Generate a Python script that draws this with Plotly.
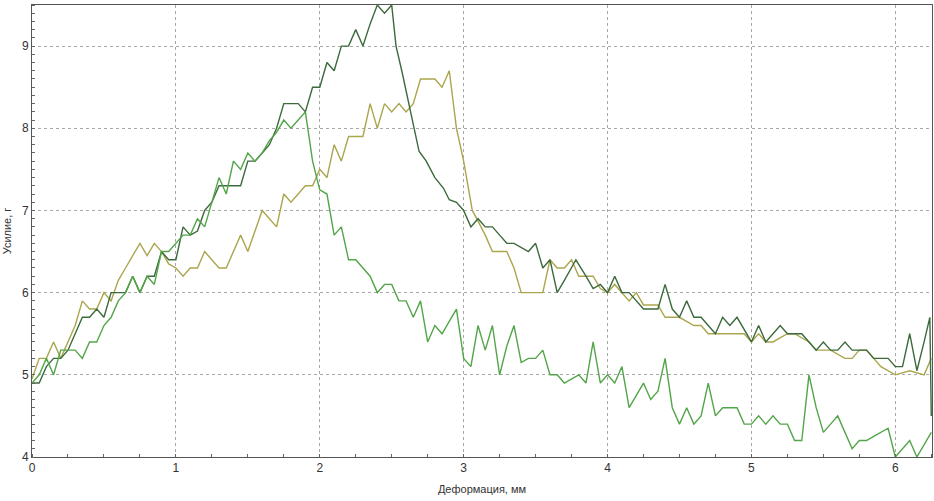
import plotly.graph_objects as go

# --- data (deformation, mm / force, g) ---
dark_x = [0, 0.05, 0.1, 0.15, 0.2, 0.25, 0.3, 0.35, 0.4, 0.45, 0.5, 0.55, 0.6, 0.65, 0.7,
          0.75, 0.8, 0.85, 0.9, 0.95, 1.0, 1.05, 1.1, 1.15, 1.2, 1.25, 1.3, 1.35, 1.4, 1.45,
          1.5, 1.55, 1.6, 1.65, 1.7, 1.75, 1.8, 1.85, 1.9, 1.95, 2.0, 2.05, 2.1, 2.15, 2.2,
          2.25, 2.3, 2.35, 2.4, 2.45, 2.5, 2.53, 2.57, 2.62, 2.69, 2.74, 2.8, 2.86, 2.9, 2.95,
          3.0, 3.05, 3.1, 3.15, 3.2, 3.25, 3.3, 3.35, 3.4, 3.45, 3.5, 3.55, 3.6, 3.65, 3.7,
          3.75, 3.78, 3.85, 3.9, 3.95, 4.0, 4.05, 4.1, 4.15, 4.2, 4.25, 4.3, 4.35, 4.4, 4.45,
          4.5, 4.55, 4.6, 4.65, 4.7, 4.75, 4.8, 4.85, 4.9, 4.95, 5.0, 5.05, 5.1, 5.15, 5.2,
          5.25, 5.3, 5.35, 5.4, 5.45, 5.5, 5.55, 5.6, 5.65, 5.7, 5.75, 5.8, 5.85, 5.9, 5.95,
          6.0, 6.05, 6.1, 6.15, 6.2, 6.24, 6.25]
dark_y = [4.9, 4.9, 5.1, 5.2, 5.2, 5.3, 5.5, 5.7, 5.7, 5.8, 5.7, 6.0, 6.0, 6.0, 6.2,
          6.0, 6.2, 6.2, 6.5, 6.4, 6.4, 6.8, 6.7, 6.75, 7.0, 7.1, 7.3, 7.3, 7.3, 7.3,
          7.6, 7.6, 7.7, 7.8, 8.0, 8.3, 8.3, 8.3, 8.2, 8.5, 8.5, 8.8, 8.7, 9.0, 9.0,
          9.2, 9.0, 9.27, 9.5, 9.4, 9.5, 9.0, 8.7, 8.3, 7.72, 7.6, 7.4, 7.27, 7.13, 7.1,
          7.0, 6.8, 6.9, 6.8, 6.8, 6.7, 6.6, 6.6, 6.55, 6.5, 6.6, 6.3, 6.4, 6.0, 6.15,
          6.3, 6.4, 6.2, 6.05, 6.1, 6.0, 6.2, 6.0, 6.0, 5.9, 5.8, 5.8, 5.8, 6.1, 5.8,
          5.7, 5.9, 5.7, 5.7, 5.6, 5.5, 5.7, 5.6, 5.7, 5.55, 5.4, 5.6, 5.4, 5.5, 5.6,
          5.5, 5.5, 5.5, 5.4, 5.3, 5.4, 5.3, 5.3, 5.4, 5.3, 5.3, 5.3, 5.2, 5.2, 5.2,
          5.1, 5.1, 5.5, 5.05, 5.4, 5.7, 4.5]

olive_x = [0, 0.05, 0.1, 0.15, 0.2, 0.25, 0.3, 0.35, 0.4, 0.45, 0.5, 0.55, 0.6, 0.65, 0.7,
           0.75, 0.8, 0.85, 0.9, 0.95, 1.0, 1.05, 1.1, 1.15, 1.2, 1.25, 1.3, 1.35, 1.4, 1.45,
           1.5, 1.55, 1.6, 1.65, 1.7, 1.75, 1.8, 1.9, 1.95, 2.0, 2.05, 2.1, 2.15, 2.2, 2.3,
           2.35, 2.4, 2.45, 2.5, 2.55, 2.6, 2.65, 2.7, 2.8, 2.85, 2.9, 2.95, 3.0, 3.03, 3.06,
           3.1, 3.15, 3.2, 3.3, 3.35, 3.4, 3.55, 3.6, 3.65, 3.7, 3.75, 3.8, 3.9, 3.95, 4.0,
           4.05, 4.15, 4.2, 4.25, 4.35, 4.4, 4.5, 4.6, 4.65, 4.7, 4.95, 5.0, 5.05, 5.1, 5.15,
           5.25, 5.3, 5.4, 5.45, 5.55, 5.65, 5.7, 5.75, 5.8, 5.9, 6.0, 6.1, 6.2, 6.25]
olive_y = [4.95, 5.2, 5.2, 5.4, 5.2, 5.4, 5.6, 5.9, 5.8, 5.8, 6.0, 5.9, 6.15, 6.3, 6.45,
           6.6, 6.45, 6.6, 6.5, 6.35, 6.3, 6.2, 6.3, 6.3, 6.5, 6.4, 6.3, 6.3, 6.5, 6.7,
           6.5, 6.75, 7.0, 6.9, 6.8, 7.2, 7.1, 7.3, 7.3, 7.5, 7.4, 7.8, 7.6, 7.9, 7.9,
           8.3, 8.0, 8.3, 8.2, 8.3, 8.2, 8.3, 8.6, 8.6, 8.5, 8.7, 8.0, 7.6, 7.3, 7.0,
           6.87, 6.7, 6.5, 6.5, 6.3, 6.0, 6.0, 6.4, 6.3, 6.3, 6.4, 6.2, 6.2, 6.05, 6.0,
           6.1, 5.9, 6.0, 5.85, 5.85, 5.7, 5.7, 5.6, 5.6, 5.5, 5.5, 5.4, 5.5, 5.4, 5.4,
           5.5, 5.5, 5.4, 5.3, 5.3, 5.2, 5.2, 5.3, 5.3, 5.1, 5.0, 5.05, 5.0, 5.2]

green_x = [0, 0.05, 0.1, 0.15, 0.2, 0.25, 0.3, 0.35, 0.4, 0.45, 0.5, 0.55, 0.6, 0.65, 0.7,
           0.75, 0.8, 0.85, 0.9, 0.95, 1.0, 1.05, 1.1, 1.15, 1.2, 1.25, 1.3, 1.35, 1.4, 1.45,
           1.5, 1.55, 1.6, 1.65, 1.7, 1.75, 1.8, 1.85, 1.9, 1.95, 2.0, 2.05, 2.1, 2.15, 2.2,
           2.25, 2.3, 2.35, 2.4, 2.45, 2.5, 2.55, 2.6, 2.65, 2.7, 2.75, 2.8, 2.85, 2.9, 2.95,
           3.0, 3.05, 3.1, 3.15, 3.2, 3.25, 3.3, 3.35, 3.4, 3.45, 3.5, 3.55, 3.6, 3.65, 3.7,
           3.75, 3.8, 3.85, 3.9, 3.95, 4.0, 4.05, 4.1, 4.15, 4.2, 4.25, 4.3, 4.35, 4.4, 4.45,
           4.5, 4.55, 4.6, 4.65, 4.7, 4.75, 4.8, 4.9, 4.95, 5.0, 5.05, 5.1, 5.15, 5.2, 5.25,
           5.3, 5.35, 5.4, 5.45, 5.5, 5.55, 5.6, 5.65, 5.7, 5.75, 5.8, 5.85, 5.9, 5.95, 6.0,
           6.1, 6.15, 6.25]
green_y = [4.9, 5.0, 5.2, 5.0, 5.3, 5.3, 5.3, 5.2, 5.4, 5.4, 5.6, 5.7, 5.9, 6.0, 6.2,
           6.0, 6.2, 6.1, 6.5, 6.5, 6.6, 6.7, 6.7, 6.9, 6.8, 7.1, 7.4, 7.2, 7.6, 7.5,
           7.7, 7.6, 7.7, 7.85, 7.95, 8.1, 8.0, 8.1, 8.2, 7.6, 7.25, 7.2, 6.7, 6.8, 6.4,
           6.4, 6.3, 6.2, 6.0, 6.1, 6.1, 5.9, 5.9, 5.7, 5.9, 5.4, 5.6, 5.5, 5.65, 5.8,
           5.2, 5.1, 5.6, 5.3, 5.6, 5.0, 5.35, 5.6, 5.15, 5.2, 5.2, 5.3, 5.0, 5.0, 4.9,
           4.95, 5.0, 4.9, 5.4, 4.9, 5.0, 4.9, 5.1, 4.6, 4.75, 4.9, 4.7, 4.8, 5.2, 4.6,
           4.4, 4.6, 4.4, 4.5, 4.9, 4.5, 4.6, 4.6, 4.4, 4.4, 4.5, 4.4, 4.5, 4.4, 4.4,
           4.2, 4.2, 5.0, 4.6, 4.3, 4.4, 4.5, 4.3, 4.1, 4.2, 4.2, 4.25, 4.3, 4.35, 4.0,
           4.2, 4.0, 4.3]

x_ticks = [0, 1, 2, 3, 4, 5, 6]
y_ticks = [4, 5, 6, 7, 8, 9]

fig = go.Figure()
for xs, ys, color in [
    (olive_x, olive_y, "#aaa64e"),
    (dark_x, dark_y, "#3c6a3c"),
    (green_x, green_y, "#52a548"),
]:
    fig.add_trace(go.Scatter(x=xs, y=ys, mode="lines",
                             line=dict(color=color, width=1.4), showlegend=False))

axis_common = dict(
    showgrid=True, gridcolor="#a8a8a8", griddash="3px,3px", gridwidth=1,
    zeroline=False, showline=True, linecolor="#555555", linewidth=1, mirror=True,
    ticks="", automargin=False,
    tickfont=dict(family="Liberation Sans, Arial", size=12, color="#333333"),
    minor=dict(ticks="inside", ticklen=3, tickcolor="#666666"),
)
fig.update_xaxes(range=[0, 6.255], tickvals=x_ticks, **axis_common,
                 title=dict(text="Деформация, мм", standoff=10,
                            font=dict(family="Liberation Sans, Arial", size=11, color="#333333")))
fig.update_yaxes(range=[4, 9.5], tickvals=y_ticks, **axis_common,
                 title=dict(text="Усилие, г", standoff=8,
                            font=dict(family="Liberation Sans, Arial", size=11, color="#333333")))
fig.update_xaxes(minor=dict(dtick=0.25))
fig.update_yaxes(minor=dict(dtick=0.1))
fig.update_layout(
    width=934, height=501,
    margin=dict(l=32, r=2, t=5, b=44),
    plot_bgcolor="white", paper_bgcolor="white",
)
# the page's default body margin would shift the figure by 8 px
fig.write_html("out.html", config={"displayModeBar": False},
               post_script="document.body.style.margin='0';")
